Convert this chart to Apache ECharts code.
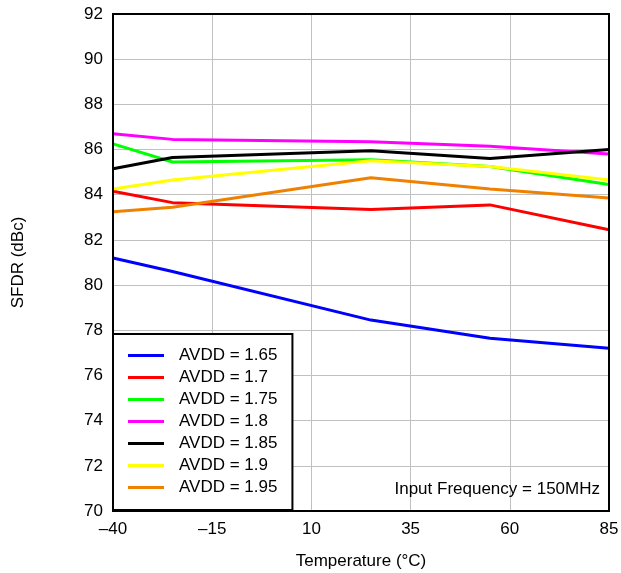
<!DOCTYPE html>
<html><head><meta charset="utf-8">
<script src="https://cdn.jsdelivr.net/npm/echarts@6/dist/echarts.min.js"></script>
<style>html,body{margin:0;padding:0;background:#fff}#c{width:621px;height:573px}</style>
</head><body><div id="c"></div>
<script>
const temps = [-40, -25, 25, 55, 85];
const names = ['AVDD = 1.65','AVDD = 1.7','AVDD = 1.75','AVDD = 1.8','AVDD = 1.85','AVDD = 1.9','AVDD = 1.95'];
const colors = ['#0000ff','#ff0000','#00ff00','#ff00ff','#000000','#ffff00','#f08000'];
const avdd165 = [81.2, 80.6, 78.45, 77.65, 77.2];
const avdd170 = [84.15, 83.65, 83.35, 83.55, 82.45];
const avdd175 = [86.25, 85.45, 85.55, 85.25, 84.45];
const avdd180 = [86.7, 86.45, 86.35, 86.15, 85.8];
const avdd185 = [85.15, 85.65, 85.95, 85.6, 86.0];
const avdd190 = [84.25, 84.65, 85.5, 85.25, 84.65];
const avdd195 = [83.25, 83.45, 84.75, 84.25, 83.85];
const seriesValues = [avdd165, avdd170, avdd175, avdd180, avdd185, avdd190, avdd195];
const xTicks = {min: -40, max: 85, interval: 25};
const yTicks = {min: 70, max: 92, interval: 2};
const font = 'Liberation Sans, Arial, sans-serif';
const fmt = v => String(v).replace('-', '\u2013');
const chart = echarts.init(document.getElementById('c'));
chart.setOption({
  animation: false,
  backgroundColor: '#fff',
  grid: {left: 113, right: 12, top: 14, bottom: 62, show: true, borderColor: '#000', borderWidth: 2, z: 10,
         containLabel: false, outerBoundsMode: 'none'},
  xAxis: {
    type: 'value', min: xTicks.min, max: xTicks.max, interval: xTicks.interval,
    name: 'Temperature (°C)', nameLocation: 'middle', nameGap: 42,
    nameTextStyle: {fontFamily: font, fontSize: 17, color: '#000'},
    axisLine: {show: false}, axisTick: {show: false},
    axisLabel: {formatter: fmt, fontFamily: font, fontSize: 17, color: '#000', margin: 10},
    splitLine: {show: true, lineStyle: {color: '#c0c0c0', width: 1}}
  },
  yAxis: {
    type: 'value', min: yTicks.min, max: yTicks.max, interval: yTicks.interval,
    name: 'SFDR (dBc)', nameLocation: 'middle', nameGap: 86, nameRotate: 90,
    nameTextStyle: {fontFamily: font, fontSize: 17, color: '#000'},
    axisLine: {show: false}, axisTick: {show: false},
    axisLabel: {fontFamily: font, fontSize: 17, color: '#000', margin: 10},
    splitLine: {show: true, lineStyle: {color: '#c0c0c0', width: 1}}
  },
  legend: {
    show: true, orient: 'vertical', left: 113, top: 334,
    backgroundColor: '#fff', borderColor: '#000', borderWidth: 2,
    padding: [13, 15, 14, 15], itemGap: 5, itemWidth: 36, itemHeight: 3,
    icon: 'rect',
    textStyle: {fontFamily: font, fontSize: 17, color: '#000', lineHeight: 17, padding: [0, 0, 0, 10]},
    data: names, z: 20
  },
  graphic: [{
    type: 'text', right: 21, top: 481, z: 30,
    style: {text: 'Input Frequency = 150MHz', font: '17px ' + font, fill: '#000'}
  }],
  series: names.map((n, i) => ({
    name: n, type: 'line', symbol: 'none', smooth: false,
    data: temps.map((t, j) => [t, seriesValues[i][j]]),
    lineStyle: {color: colors[i], width: 3},
    itemStyle: {color: colors[i]}
  }))
});
</script></body></html>
